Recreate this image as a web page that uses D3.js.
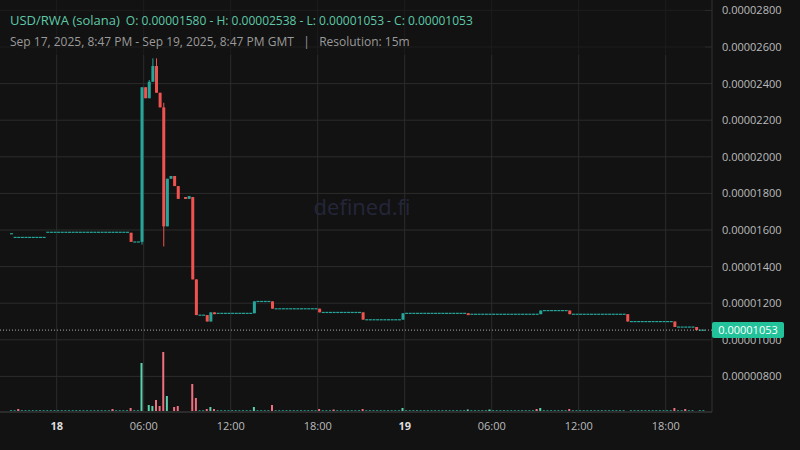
<!DOCTYPE html>
<html><head><meta charset="utf-8">
<script src="https://cdn.jsdelivr.net/npm/d3@7"></script>
<style>body{margin:0;background:#121212}svg{display:block}</style>
</head><body><svg id="c" width="800" height="450"></svg>
<script>
// prices in units of 1e-6, time in hours from Sep 17 20:47 GMT
var candles = [
  [8.25,15.85,15.85,15.35,15.35],[9.0,15.35,23.8,15.2,23.8],[9.25,23.8,23.8,23.2,23.2],
  [9.5,23.2,24.2,23.2,24.1],[9.75,24.1,25.38,24.1,24.96],[10.0,24.96,25.38,23.5,23.5],
  [10.25,23.5,23.5,22.7,22.7],[10.5,22.7,22.95,15.1,16.2],[10.75,16.2,18.8,16.2,18.8],
  [11.0,18.8,18.95,18.8,18.95],[11.25,18.95,18.95,18.4,18.4],[11.5,18.4,18.4,17.7,17.7],
  [12.0,17.8,17.8,17.7,17.7],[12.25,17.7,17.85,17.7,17.85],[12.5,17.8,17.8,13.3,13.3],
  [12.75,13.3,13.3,11.35,11.35],[13.5,11.35,11.35,11.0,11.0],[13.75,11.0,11.5,11.0,11.5],
  [14.0,11.5,11.5,11.4,11.4],[16.75,11.45,12.1,11.45,12.1],[18.0,12.1,12.1,11.7,11.7],
  [21.25,11.7,11.7,11.5,11.5],[24.25,11.5,11.5,11.1,11.1],[27.0,11.1,11.45,11.1,11.45],
  [31.5,11.45,11.45,11.35,11.35],[36.5,11.4,11.6,11.4,11.6],[38.5,11.6,11.6,11.4,11.4],
  [42.5,11.4,11.4,11.0,11.0],[45.75,11.0,11.0,10.7,10.7],[47.25,10.7,10.7,10.53,10.53]
];
// flat stretches: [from, to, price]
var flats = [
  [0,0.25,15.8],[0.25,2.5,15.6],[2.5,8.25,15.88],[8.5,9.0,15.35],[13.0,13.5,11.35],
  [14.25,16.75,11.45],[17.0,18.0,12.1],[18.25,21.25,11.7],[21.5,24.25,11.5],
  [24.5,27.0,11.1],[27.25,31.5,11.45],[31.75,36.5,11.4],[36.75,38.5,11.6],
  [38.75,42.5,11.4],[42.75,45.75,11.0],[46.0,47.25,10.7],[47.5,48,10.53]
];
// volume spikes: [hour, value, up]
var volumes = [
  [0.5,2,0],[7.0,2,0],[8.25,3,0],[9.0,48,1],[9.5,6,1],[9.75,5,1],[10.0,11,0],[10.25,5,0],
  [10.5,59,0],[10.75,15,1],[11.25,4,0],[11.5,5,0],[12.5,27,0],[12.75,13,0],[13.5,2,0],
  [13.75,4,1],[14.0,2,0],[16.75,4,1],[18.0,6,0],[21.25,2,0],[22.25,1.5,0],[24.25,2,0],
  [27.0,3,1],[31.5,1.5,1],[33.0,1.5,1],[36.25,2,0],[36.5,3,1],[38.5,2,0],[45.75,3,0],[46.5,2,0]
];
var priceTicks = [8,10,12,14,16,18,20,22,24,26,28];
var timeTicks = [[3.22,"18",true],[9.22,"06:00"],[15.22,"12:00"],[21.22,"18:00"],
  [27.22,"19",true],[33.22,"06:00"],[39.22,"12:00"],[45.22,"18:00"]];
var lastPrice = 10.53;

var up = "#26a69a", down = "#ef5350";
var svg = d3.select("#c");
var x = d3.scaleLinear().domain([0,48]).range([10,706]);
var y = d3.scaleLinear().domain([16,26]).range([230,47]);
var yv = d3.scaleLinear().domain([0,1]).range([411,410]);
var right = 712, bottom = 412;

var g = svg.append("g");
priceTicks.forEach(function(p){
  g.append("line").attr("x1",0).attr("x2",right).attr("y1",y(p)).attr("y2",y(p))
    .attr("stroke","#2c2c2c");
  g.append("text").attr("x",722).attr("y",y(p)+4).attr("fill","#bbb")
    .attr("font-family","Open Sans").attr("font-size",11).text((p/1e6).toFixed(8));
});
timeTicks.forEach(function(t){
  g.append("line").attr("x1",x(t[0])).attr("x2",x(t[0])).attr("y1",0).attr("y2",bottom)
    .attr("stroke","#2c2c2c");
  g.append("text").attr("x",x(t[0])).attr("y",430).attr("text-anchor","middle")
    .attr("fill",t[2]?"#ddd":"#bbb").attr("font-weight",t[2]?"bold":"normal")
    .attr("font-family","Open Sans").attr("font-size",11).text(t[1]);
});
g.append("line").attr("x1",right).attr("x2",right).attr("y1",0).attr("y2",bottom).attr("stroke","#333");
g.append("line").attr("x1",0).attr("x2",right).attr("y1",bottom).attr("y2",bottom).attr("stroke","#444");

svg.append("text").attr("x",362).attr("y",215).attr("text-anchor","middle")
  .attr("fill","#24263a").attr("font-family","Open Sans").attr("font-size",22).text("defined.fi");

// flat candles as ticks
var bw = 3;
flats.forEach(function(f){
  for (var h = f[0]; h < f[1]; h += 0.25) {
    svg.append("rect").attr("x",x(h)).attr("y",y(f[2])-0.5).attr("width",bw).attr("height",1.2)
      .attr("fill",up);
    svg.append("rect").attr("x",x(h)).attr("y",yv(1)).attr("width",bw-1).attr("height",yv(0)-yv(1))
      .attr("fill",up).attr("opacity",0.8);
  }
});
candles.forEach(function(c){
  var col = c[4] >= c[1] ? up : down;
  svg.append("line").attr("x1",x(c[0])+bw/2).attr("x2",x(c[0])+bw/2)
    .attr("y1",y(c[2])).attr("y2",y(c[3])).attr("stroke",col);
  var top = y(Math.max(c[1],c[4])), bot = y(Math.min(c[1],c[4]));
  svg.append("rect").attr("x",x(c[0])).attr("y",top).attr("width",bw)
    .attr("height",Math.max(1.2,bot-top)).attr("fill",col);
});
volumes.forEach(function(v){
  svg.append("rect").attr("x",x(v[0])).attr("y",yv(v[1])).attr("width",2)
    .attr("height",yv(0)-yv(v[1])).attr("fill",v[2]?"#5ad1ab":"#f07080");
});

// last price
svg.append("line").attr("x1",0).attr("x2",right).attr("y1",y(lastPrice)).attr("y2",y(lastPrice))
  .attr("stroke","#aaa").attr("stroke-dasharray","1,2");
svg.append("rect").attr("x",712).attr("y",y(lastPrice)-8).attr("width",72).attr("height",16)
  .attr("rx",2).attr("fill","#22c29a");
svg.append("text").attr("x",748).attr("y",y(lastPrice)+4).attr("text-anchor","middle")
  .attr("fill","#fff").attr("font-family","Open Sans").attr("font-size",11).text((lastPrice/1e6).toFixed(8));

// header
svg.append("rect").attr("x",0).attr("y",0).attr("width",705).attr("height",55).attr("fill","#121212").attr("opacity",0.6);
var t1 = svg.append("text").attr("x",10).attr("y",25).attr("font-family","Open Sans").attr("fill","#5ec9a8");
t1.append("tspan").attr("font-size",13).text("USD/RWA (solana)");
t1.append("tspan").attr("font-size",12).attr("dx",6)
  .text("O: 0.00001580 - H: 0.00002538 - L: 0.00001053 - C: 0.00001053");
svg.append("text").attr("x",10).attr("y",46).attr("font-family","Open Sans").attr("font-size",12)
  .attr("fill","#9a9a9a").text("Sep 17, 2025, 8:47 PM - Sep 19, 2025, 8:47 PM GMT   |   Resolution: 15m")
  .attr("xml:space","preserve");
</script></body></html>
